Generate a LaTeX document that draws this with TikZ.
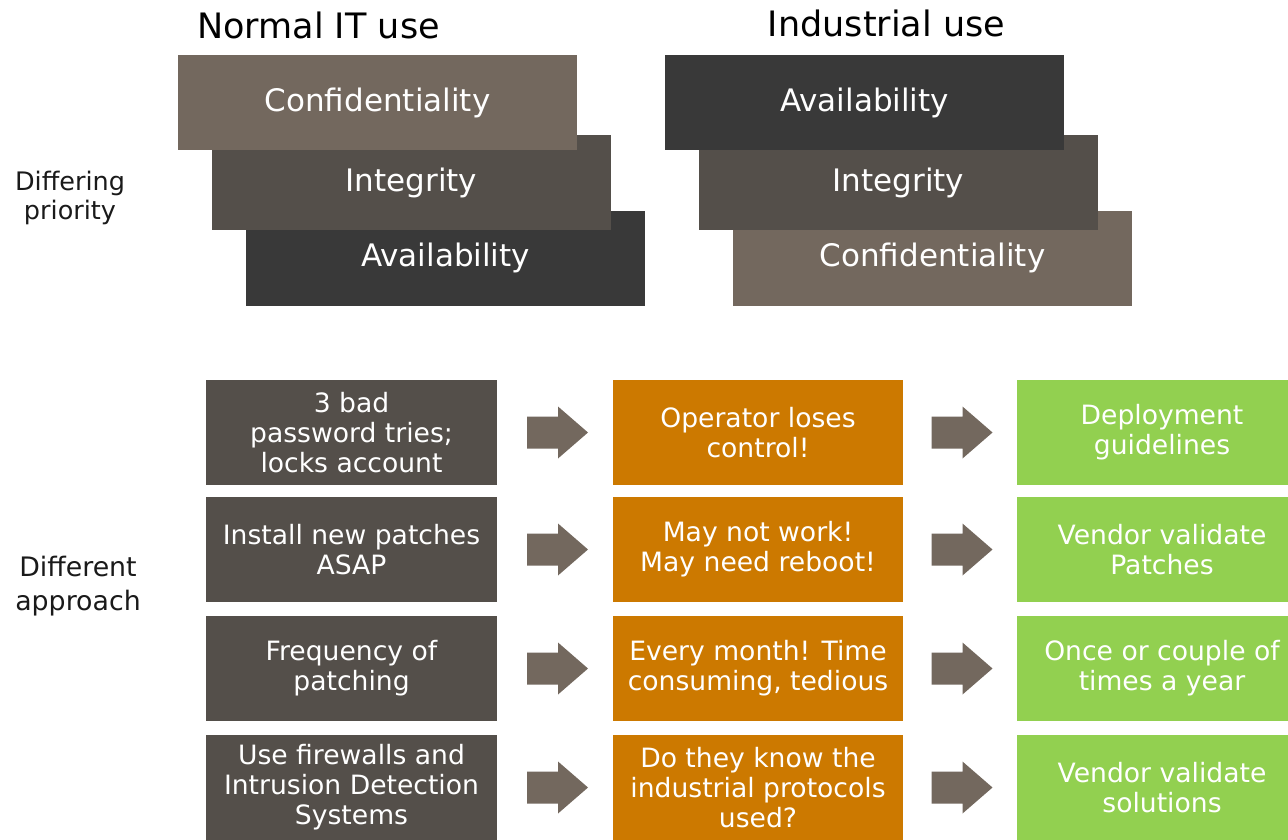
\documentclass[tikz,border=0pt]{standalone}
\usepackage{fontspec}
\setmainfont{DejaVu Sans}
\usetikzlibrary{calc}
\definecolor{confc}{HTML}{73685E}
\definecolor{integc}{HTML}{544F4A}
\definecolor{availc}{HTML}{393939}
\definecolor{orangec}{HTML}{CC7900}
\definecolor{greenc}{HTML}{92D050}
\definecolor{arrowc}{HTML}{73685E}
\definecolor{labelc}{HTML}{1A1A1A}
\tikzset{
  topbox/.style={minimum width=399pt, minimum height=95pt, inner sep=0pt, text=white,
    font=\fontsize{31}{37}\selectfont},
  rowbox/.style={minimum width=291pt, minimum height=105pt, inner sep=0pt, text=white,
    align=center, font=\fontsize{26.6}{30}\selectfont},
  leftbox/.style={rowbox, fill=integc},
  midbox/.style={rowbox, fill=orangec, minimum width=290pt},
  rightbox/.style={rowbox, fill=greenc, minimum width=290pt},
  titletext/.style={inner sep=0pt, text=black, font=\fontsize{35}{42}\selectfont},
  sidetext/.style={inner sep=0pt, text=labelc, align=center},
  blockarrow/.style={fill=arrowc}
}
\newcommand{\blockarr}[1]{%
  \fill[blockarrow] ($(#1)+(-30.5,-16)$) -- ++(31,0) -- ++(0,-10) -- ++(30,26)
    -- ++(-30,26) -- ++(0,-10) -- ++(-31,0) -- cycle;}
\begin{document}
\begin{tikzpicture}[x=1pt,y=-1pt]
\useasboundingbox (0,0) rectangle (1288,839);
\fill[white] (0,0) rectangle (1288,839);

% titles
\node[titletext] (t1) at (318.5,25) {Normal IT use};
\node[titletext] (t2) at (886.5,23) {Industrial use};

% left priority stack (bottom first)
\node[topbox, fill=availc] (la) at (445.5,258) {Availability};
\node[topbox, fill=integc] (li) at (411.5,182.5) {Integrity};
\node[topbox, fill=confc] (lc) at (377.5,102.5) {Confidentiality};

% right priority stack
\node[topbox, fill=confc] (rc) at (932.5,258) {Confidentiality};
\node[topbox, fill=integc] (ri) at (898.5,182.5) {Integrity};
\node[topbox, fill=availc] (ra) at (864.5,102.5) {Availability};

% side labels
\node[sidetext, font=\fontsize{25.5}{29}\selectfont] (s1) at (70,198) {Differing\\priority};
\node[sidetext, font=\fontsize{26.8}{34}\selectfont] (s2) at (78,586) {Different\\approach};

% rows
\node[leftbox] (L1) at (351.5,432.5) {3 bad\\password tries;\\locks account};
\node[leftbox] (L2) at (351.5,549.5) {Install new patches\\ASAP};
\node[leftbox] (L3) at (351.5,668.5) {Frequency of\\patching};
\node[leftbox] (L4) at (351.5,787.5) {Use firewalls and\\Intrusion Detection\\Systems};

\node[midbox] (M1) at (758,432.5) {Operator loses\\control!};
\node[midbox] (M2) at (758,549.5) {May not work!\\May need reboot!};
\node[midbox] (M3) at (758,668.5) {Every month! Time\\consuming, tedious};
\node[midbox] (M4) at (758,787.5) {Do they know the\\industrial protocols\\used?};

\node[rightbox] (R1) at (1162,432.5) {Deployment\\guidelines};
\node[rightbox] (R2) at (1162,549.5) {Vendor validate\\Patches};
\node[rightbox] (R3) at (1162,668.5) {Once or couple of\\times a year};
\node[rightbox] (R4) at (1162,787.5) {Vendor validate\\solutions};

% block arrows
\foreach \i in {1,2,3,4}{
  \coordinate (a\i) at ($(L\i.east)!0.5!(M\i.west)+(2.5,0)$);
  \coordinate (b\i) at ($(M\i.east)!0.5!(R\i.west)+(2,0)$);
  \blockarr{a\i}
  \blockarr{b\i}
}
\end{tikzpicture}
\end{document}
